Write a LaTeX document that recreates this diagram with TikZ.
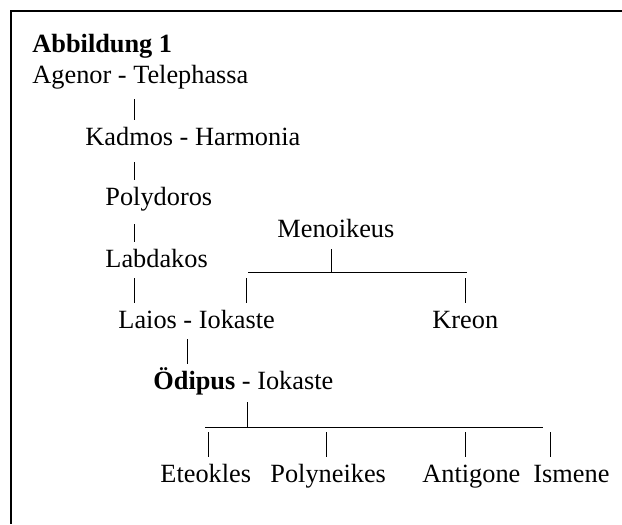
\documentclass[tikz,border=0pt]{standalone}
\usepackage{fontspec}
\setmainfont{Liberation Serif}
\begin{document}
\begin{tikzpicture}[x=0.456pt,y=-0.456pt,
  person/.style={anchor=base west,inner sep=0pt,font=\fontsize{12}{14}\selectfont,text height=8.2pt,text depth=2.7pt},
  tie/.style={line width=0.42pt},
  stem/.style={line width=0.42pt,shorten >=3.2pt}]
  \useasboundingbox (0,0) rectangle (622,524);
  \draw[line width=0.9pt] (622,11) -- (11,11) -- (11,524);
  \node[person,font=\fontsize{12}{14}\selectfont\bfseries] (title) at (32,52) {Abbildung 1};
  \node[person] (agenor) at (32,83) {Agenor - Telephassa};
  \node[person] (kadmos) at (85,145) {Kadmos - Harmonia};
  \node[person] (polydoros) at (105,205) {Polydoros};
  \node[person] (labdakos) at (105,267) {Labdakos};
  \node[person] (menoikeus) at (277,237) {Menoikeus};
  \node[person] (laios) at (118,328) {Laios - Iokaste};
  \node[person] (kreon) at (432,328) {Kreon};
  \node[person] (oedipus) at (153,389) {{\bfseries Ödipus} - Iokaste};
  \node[person] (eteokles) at (160,482) {Eteokles};
  \node[person] (polyneikes) at (270,482) {Polyneikes};
  \node[person] (antigone) at (422,482) {Antigone};
  \node[person] (ismene) at (533,482) {Ismene};
  \coordinate (s1) at (134,99);
  \coordinate (s2) at (134,162);
  \coordinate (s3) at (134,224);
  \coordinate (s4) at (134,278);
  \coordinate (s5) at (187,339);
  \draw[stem] (s1) -- (kadmos.north -| s1);
  \draw[stem] (s2) -- (polydoros.north -| s2);
  \draw[stem] (s3) -- (labdakos.north -| s3);
  \draw[stem] (s4) -- (laios.north -| s4);
  \draw[stem] (s5) -- (oedipus.north -| s5);
  \coordinate (mL) at (248,272);
  \coordinate (mJ) at (331,272);
  \coordinate (mR) at (467,272);
  \draw[tie] (mL) -- (mR);
  \draw[tie,shorten <=2.7pt] (menoikeus.south -| mJ) -- (mJ);
  \coordinate (m1) at (246,278);
  \coordinate (m2) at (465,278);
  \draw[stem] (m1) -- (laios.north -| m1);
  \draw[stem] (m2) -- (kreon.north -| m2);
  \coordinate (oL) at (205,427);
  \coordinate (oJ) at (247,427);
  \coordinate (oR) at (543,427);
  \draw[tie] (oL) -- (oR);
  \draw[tie,shorten <=3.2pt] (oedipus.south -| oJ) -- (oJ);
  \coordinate (k1) at (208,432);
  \coordinate (k2) at (326,432);
  \coordinate (k3) at (465,432);
  \coordinate (k4) at (550,432);
  \foreach \k/\n in {k1/eteokles,k2/polyneikes,k3/antigone,k4/ismene}
    \draw[stem] (\k) -- (\n.north -| \k);
\end{tikzpicture}
\end{document}
